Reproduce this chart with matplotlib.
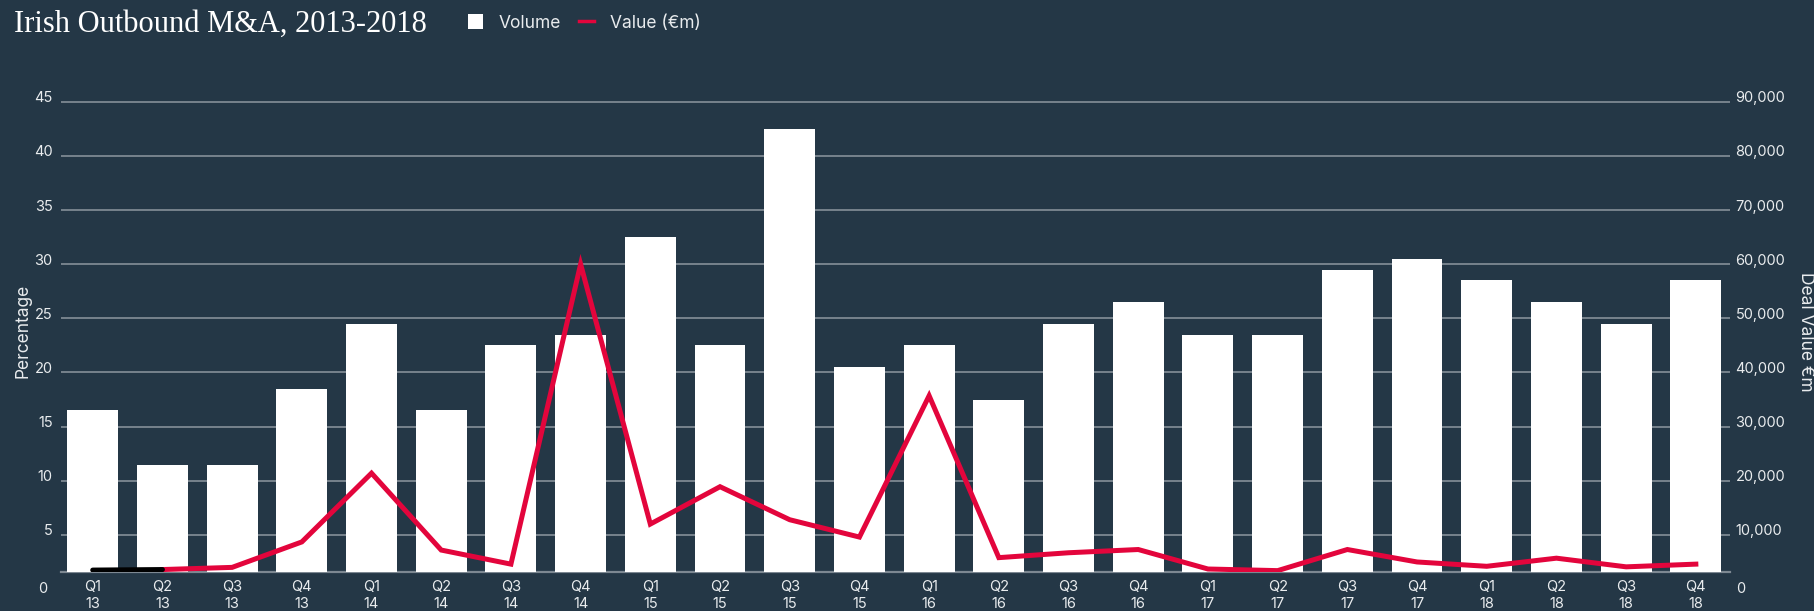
import matplotlib

matplotlib.use("Agg")

import matplotlib.pyplot as plt  # noqa: E402
import matplotlib.transforms as mtransforms  # noqa: E402
from matplotlib.lines import Line2D  # noqa: E402
from matplotlib.patches import Patch  # noqa: E402

# --- data --------------------------------------------------------------------
QUARTERS = ["Q1", "Q2", "Q3", "Q4"] * 6
YEARS = [y for y in ["13", "14", "15", "16", "17", "18"] for _ in range(4)]
VOLUME_PCT = [
    16.5, 11.5, 11.5, 18.5,
    24.5, 16.5, 22.5, 23.5,
    32.5, 22.5, 42.5, 20.5,
    22.5, 17.5, 24.5, 26.5,
    23.5, 23.5, 29.5, 30.5,
    28.5, 26.5, 24.5, 28.5,
]
VALUE_EUR_M = [
    3500, 3600, 4000, 8700,
    21400, 7200, 4600, 60000,
    12000, 18900, 12800, 9600,
    35700, 5800, 6700, 7300,
    3700, 3400, 7300, 5000,
    4200, 5700, 4100, 4600,
]
LEFT_TICKS = [5, 10, 15, 20, 25, 30, 35, 40, 45]
RIGHT_TICKS = [t * 2000 for t in LEFT_TICKS]

# --- style --------------------------------------------------------------------
BG = "#243746"
RED = "#e3053c"
GRID = "#7d8892"
TEXT = "#e9ecee"
SANS = ["Inter", "DejaVu Sans"]

Y_BOTTOM = 1.6
Y_TOP = 46

fig = plt.figure(figsize=(18.14, 6.11), dpi=100, facecolor=BG)
ax = fig.add_axes([61 / 1814, 0.0643, (1730 - 61) / 1814, 0.7869])
ax.set_facecolor(BG)

x = list(range(len(QUARTERS)))
ax.set_axisbelow(True)
ax.bar(x, [v - Y_BOTTOM for v in VOLUME_PCT], bottom=Y_BOTTOM, width=0.73,
       color="white", zorder=2)
ax.set_xlim(-0.455, 23.49)
ax.set_ylim(Y_BOTTOM, Y_TOP)
ax.set_yticks(LEFT_TICKS)
ax.yaxis.grid(True, color=GRID, linewidth=1.3)
ax.axhline(Y_BOTTOM, color=GRID, linewidth=1.6, zorder=1, clip_on=False)
for side in ["top", "right", "left", "bottom"]:
    ax.spines[side].set_visible(False)

ax.set_xticks(x)
ax.set_xticklabels([f"{q}\n{y}" for q, y in zip(QUARTERS, YEARS)],
                   fontsize=10.5, color=TEXT, family=SANS, linespacing=1.3)
ax.tick_params(axis="x", length=0, pad=6)
ax.tick_params(axis="y", length=0, pad=6, labelsize=10.5, labelcolor=TEXT)
for lab in ax.get_yticklabels():
    lab.set_family(SANS)
up = mtransforms.ScaledTranslation(0, 5 / 100, fig.dpi_scale_trans)
for lab in ax.get_yticklabels():
    lab.set_transform(lab.get_transform() + up)

# the "0" labels sit below the clipped baseline, at the true zero
left_off = mtransforms.ScaledTranslation(-14 / 100, 0, fig.dpi_scale_trans)
ax.text(0, 0, "0", transform=ax.get_yaxis_transform() + left_off, ha="right",
        va="center", fontsize=10.5, color=TEXT, family=SANS, clip_on=False)
ax.set_ylabel("Percentage", fontsize=12.5, color=TEXT, family=SANS, labelpad=2)

ax2 = ax.twinx()
ax2.set_ylim(Y_BOTTOM * 2000, Y_TOP * 2000)
ax2.set_yticks(RIGHT_TICKS)
ax2.set_yticklabels([f"{t:,}" for t in RIGHT_TICKS], family=SANS)
ax2.tick_params(axis="y", length=0, pad=4, labelsize=10.5, labelcolor=TEXT)
for lab in ax2.get_yticklabels():
    lab.set_transform(lab.get_transform() + up)
for side in ["top", "right", "left", "bottom"]:
    ax2.spines[side].set_visible(False)
right_off = mtransforms.ScaledTranslation(6 / 100, 0, fig.dpi_scale_trans)
ax2.text(1.0, 0, "0", transform=ax2.get_yaxis_transform() + right_off,
         ha="left", va="center", fontsize=10.5, color=TEXT, family=SANS,
         clip_on=False)
ax2.plot(x[1:], VALUE_EUR_M[1:], color=RED, linewidth=3.6, zorder=3,
         solid_joinstyle="miter")
ax2.plot(x[:2], VALUE_EUR_M[:2], color="black", linewidth=3.6, zorder=4,
         solid_capstyle="round")
ax2.set_ylabel("Deal Value €m", fontsize=12.5, color=TEXT, family=SANS,
               rotation=270, labelpad=20)

fig.text(14 / 1814, 1 - 24 / 611, "Irish Outbound M&A, 2013-2018",
         fontsize=22, color="white", family="Liberation Serif",
         ha="left", va="center")
handles = [
    Patch(facecolor="white", edgecolor="none"),
    Line2D([0], [0], color=RED, linewidth=2.5),
]
fig.legend(handles, ["Volume", "Value (€m)"], loc="center left",
           bbox_to_anchor=(452 / 1814, 1 - 23 / 611), ncol=2, frameon=False,
           handlelength=0.9, handleheight=0.9, handletextpad=0.9,
           columnspacing=1.0, prop={"family": SANS, "size": 12.5},
           labelcolor=TEXT)

fig.savefig("out.png", dpi=100, facecolor=BG)
